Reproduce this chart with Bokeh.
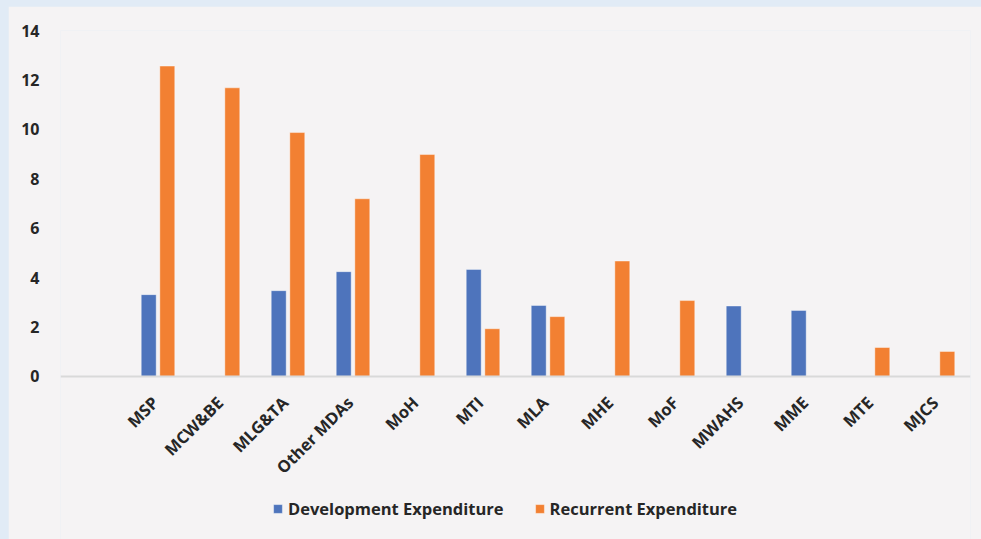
import math
from bokeh.plotting import figure
from bokeh.models import (FactorRange, Range1d, ColumnDataSource, Legend, LegendItem,
                          FixedTicker, Span)
from bokeh.core.properties import value
from bokeh.transform import dodge
from bokeh.embed import file_html
from bokeh.resources import INLINE

categories = [" ", "MSP", "MCW&BE", "MLG&TA", "Other MDAs", "MoH", "MTI", "MLA",
              "MHE", "MoF", "MWAHS", "MME", "MTE", "MJCS"]
development = [None, 3.31, None, 3.47, 4.24, None, 4.33, 2.87,
               None, None, 2.85, 2.67, None, None]
recurrent = [None, 12.56, 11.68, 9.87, 7.19, 8.98, 1.93, 2.42,
             4.67, 3.07, None, None, 1.17, 1.01]
y_ticks = [0, 2, 4, 6, 8, 10, 12, 14]

nan = float("nan")
src = ColumnDataSource(dict(
    cat=categories,
    dev=[nan if v is None else v for v in development],
    rec=[nan if v is None else v for v in recurrent],
    base=[0] * len(categories),
))

FONT = "Open Sans"
TXT = "#262626"
BG = "#f5f3f4"

p = figure(frame_width=910, frame_height=509, x_range=FactorRange(*categories),
           y_range=Range1d(-6.6, 14),
           output_backend="svg", toolbar_location=None, x_axis_location=None,
           background_fill_color=BG, border_fill_color=BG,
           min_border_left=52, min_border_right=11, min_border_top=24, min_border_bottom=0)
p.outline_line_color = None
p.xgrid.grid_line_color = None
p.ygrid.grid_line_color = None
p.x_range.range_padding = 0

p.add_layout(Span(location=0, dimension="width", line_color="#d9d9d9", line_width=2))

r_dev = p.vbar(x=dodge("cat", -0.143, range=p.x_range), top="dev", width=0.23, source=src,
               fill_color="#4e74bc", line_color="#ffffff", line_alpha=0.4, line_width=1)
r_rec = p.vbar(x=dodge("cat", 0.143, range=p.x_range), top="rec", width=0.23, source=src,
               fill_color="#f28032", line_color="#ffffff", line_alpha=0.4, line_width=1)

# category labels (rotated), anchored at each category below the zero line
p.text(x="cat", y="base", text="cat", source=src, angle=math.pi / 4,
       text_align="right", text_baseline="middle", x_offset=-3, y_offset=23,
       text_font=value(FONT), text_font_style="bold", text_font_size="16.5px",
       text_color=TXT)

p.yaxis.ticker = FixedTicker(ticks=y_ticks)
p.yaxis.axis_line_color = None
p.yaxis.major_tick_line_color = None
p.yaxis.minor_tick_line_color = None
p.yaxis.major_label_text_font = FONT
p.yaxis.major_label_text_font_style = "bold"
p.yaxis.major_label_text_font_size = "16px"
p.yaxis.major_label_text_color = TXT
p.yaxis.major_label_standoff = 15

legend = Legend(items=[LegendItem(label="Development Expenditure", renderers=[r_dev]),
                       LegendItem(label="Recurrent Expenditure", renderers=[r_rec])],
                orientation="horizontal", location=(212, 19))
legend.label_text_font = FONT
legend.label_text_font_style = "bold"
legend.label_text_font_size = "16.5px"
legend.label_text_color = TXT
legend.glyph_width = 11
legend.glyph_height = 11
legend.spacing = 30
legend.label_standoff = 5
legend.border_line_color = None
legend.background_fill_alpha = 0
legend.margin = 0
legend.padding = 0
p.add_layout(legend)

html = file_html(p, INLINE)
html = html.replace("</head>",
                    "<style>html,body{margin:0;padding:0;background:#e1ebf6;}"
                    "body{padding:6px 0 0 8px;}</style></head>", 1)
open("out.html", "w").write(html)
